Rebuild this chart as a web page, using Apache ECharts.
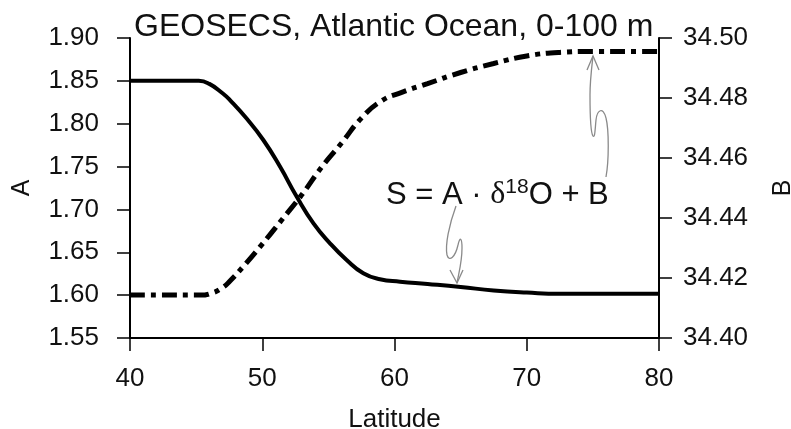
<!DOCTYPE html>
<html>
<head>
<meta charset="utf-8">
<script src="https://cdn.jsdelivr.net/npm/echarts@6/dist/echarts.min.js"></script>
<style>
  html, body { margin: 0; padding: 0; background: #fff; }
  #main { width: 791px; height: 429px; }
</style>
</head>
<body>
<div id="main"></div>
<script>
// latitude points and values
var latA = [40, 45.2, 46, 47, 47.56, 48.82, 50.08, 51.34, 52.6, 53.86, 55.12, 56.38, 57.64, 58.9, 60.42, 62.5, 65, 67.5, 70, 72.5, 80];
var valA = [1.850, 1.850, 1.8465, 1.8355, 1.8275, 1.806, 1.781, 1.750, 1.715, 1.684, 1.6605, 1.641, 1.6255, 1.6185, 1.6157, 1.613, 1.6095, 1.6055, 1.603, 1.6015, 1.6015];
var latB = [40, 45.3, 46.2, 47, 47.56, 48.5, 50, 51.5, 53, 54.5, 56, 57.5, 59, 60.5, 62.5, 65, 67.5, 70, 72.5, 75, 80];
var valB = [34.4143, 34.4143, 34.4150, 34.4168, 34.4190, 34.4235, 34.4313, 34.4395, 34.4478, 34.4570, 34.4650, 34.4733, 34.4790, 34.4818, 34.4848, 34.4885, 34.4915, 34.4940, 34.4952, 34.4955, 34.4955];

var titleText = 'GEOSECS, Atlantic Ocean, 0-100 m';
var font = 'Liberation Sans, Arial, Helvetica, sans-serif';

function pairs(xs, ys) {
    var out = [];
    for (var i = 0; i < xs.length; i++) {
        out.push([xs[i], ys[i]]);
    }
    return out;
}

var chart = echarts.init(document.getElementById('main'));

var axisLine = { show: true, lineStyle: { color: '#000', width: 2 } };
var axisTick = { show: true, inside: false, length: 13, lineStyle: { color: '#000', width: 1.5 } };

// hand-drawn squiggly arrows (bezier segments: x1,y1,cp1x,cp1y,cp2x,cp2y,x2,y2)
var grey = '#8a8a8a';
var squiggles = [
    [456, 206, 449, 225, 445, 245, 447, 255],
    [447, 255, 449, 262, 455, 258, 458, 245],
    [458, 245, 460, 236, 462, 238, 462, 248],
    [462, 248, 462, 262, 459, 272, 457, 283],
    [606, 177, 609, 160, 609, 130, 606, 118],
    [606, 118, 603, 106, 597, 110, 596, 120],
    [596, 120, 595, 130, 595, 138, 593, 136],
    [593, 136, 590, 132, 590, 110, 590, 95],
    [590, 95, 590, 80, 592, 65, 593, 56]
];
var heads = [
    [[450, 270], [457, 283], [463, 270]],
    [[587, 70], [593, 56], [599, 70]]
];

var graphics = [{
    type: 'text',
    x: 386,
    y: 195,
    style: {
        text: '{n|S = A · }{d|δ}{s|18}{n|O + B}',
        verticalAlign: 'middle',
        rich: {
            n: { fontFamily: font, fontSize: 31, fill: '#111', lineHeight: 36, verticalAlign: 'middle' },
            d: { fontFamily: 'Liberation Serif, DejaVu Serif, serif', fontSize: 32, fill: '#111', lineHeight: 36, verticalAlign: 'middle' },
            s: { fontFamily: font, fontSize: 21, fill: '#111', lineHeight: 21, verticalAlign: 'top' }
        }
    }
}];
squiggles.forEach(function (c) {
    graphics.push({
        type: 'bezierCurve',
        shape: { x1: c[0], y1: c[1], cpx1: c[2], cpy1: c[3], cpx2: c[4], cpy2: c[5], x2: c[6], y2: c[7] },
        style: { fill: 'none', stroke: grey, lineWidth: 1.3 }
    });
});
heads.forEach(function (p) {
    graphics.push({
        type: 'polyline',
        shape: { points: p },
        style: { fill: 'none', stroke: grey, lineWidth: 1.3 }
    });
});

var option = {
    animation: false,
    backgroundColor: '#fff',
    title: {
        text: titleText,
        left: 134,
        top: 11,
        padding: 0,
        textStyle: { fontFamily: font, fontSize: 32, fontWeight: 'normal', color: '#111' }
    },
    grid: { left: 130, right: 132, top: 38, bottom: 91, containLabel: false, outerBoundsMode: 'none' },
    xAxis: {
        type: 'value',
        min: 40,
        max: 80,
        interval: 10,
        name: 'Latitude',
        nameLocation: 'middle',
        nameGap: 69,
        nameTextStyle: { fontFamily: font, fontSize: 26, color: '#111' },
        axisLine: axisLine,
        axisTick: axisTick,
        splitLine: { show: false },
        axisLabel: { fontFamily: font, fontSize: 26, color: '#111', margin: 28 }
    },
    yAxis: [{
        type: 'value',
        position: 'left',
        min: 1.55,
        max: 1.90,
        interval: 0.05,
        name: 'A',
        nameLocation: 'middle',
        nameRotate: 90,
        nameGap: 95,
        nameTextStyle: { fontFamily: font, fontSize: 25, color: '#111' },
        axisLine: axisLine,
        axisTick: axisTick,
        splitLine: { show: false },
        axisLabel: {
            fontFamily: font, fontSize: 26, color: '#111', margin: 31,
            formatter: function (v) { return v.toFixed(2); }
        }
    }, {
        type: 'value',
        position: 'right',
        min: 34.40,
        max: 34.50,
        interval: 0.02,
        name: 'B',
        nameLocation: 'middle',
        nameRotate: 90,
        nameGap: 112,
        nameTextStyle: { fontFamily: font, fontSize: 25, color: '#111' },
        axisLine: axisLine,
        axisTick: axisTick,
        splitLine: { show: false },
        axisLabel: {
            fontFamily: font, fontSize: 26, color: '#111', margin: 24,
            formatter: function (v) { return v.toFixed(2); }
        }
    }],
    graphic: graphics,
    series: [{
        name: 'A',
        type: 'line',
        yAxisIndex: 0,
        data: pairs(latA, valA),
        smooth: 0.5,
        symbol: 'none',
        lineStyle: { color: '#000', width: 4 }
    }, {
        name: 'B',
        type: 'line',
        yAxisIndex: 1,
        data: pairs(latB, valB),
        smooth: 0.5,
        symbol: 'none',
        lineStyle: { color: '#000', width: 5, type: [15, 6, 5, 6], cap: 'butt' }
    }]
};

chart.setOption(option);
</script>
</body>
</html>
